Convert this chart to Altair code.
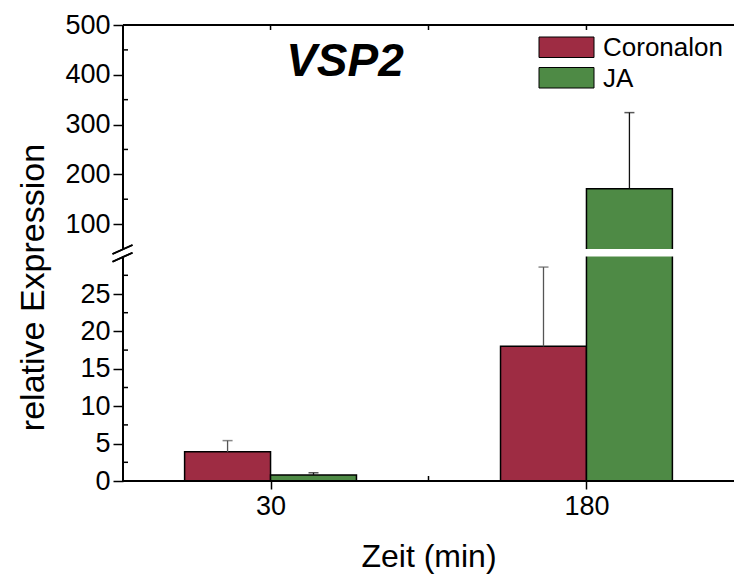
import altair as alt
import pandas as pd

# ---- data ----
times = ["30", "180"]
treatments = ["Coronalon", "JA"]
coronalon_mean = [3.9, 18.0]
coronalon_err = [1.5, 10.6]
ja_mean = [0.8, 171.0]
ja_err = [0.3, 153.0]
colors = ["#9E2C43", "#4E8A45"]
err_colors = ["#555555", "#111111"]

y_major = [0, 5, 10, 15, 20, 25, 100, 200, 300, 400, 500]
y_minor_lower = [2.5, 7.5, 12.5, 17.5, 22.5, 27.5]
y_minor_upper = [150, 250, 350, 450]
break_low, break_high = 30, 50
y_top = 500

# ---- layout constants ----
W, H = 611, 456
BW = 0.272
FONT = "Liberation Sans, Arial, sans-serif"

means = [coronalon_mean, ja_mean]
errs = [coronalon_err, ja_err]
rows = []
for i, t in enumerate(times):
    pos = i + 1
    for j, name in enumerate(treatments):
        x = pos + (j - 1) * BW
        rows.append({
            "time": t, "treatment": name, "x": x, "x2": x + BW, "xc": x + BW / 2,
            "base": 0, "mean": means[j][i], "top": means[j][i] + errs[j][i],
            "errcolor": err_colors[j],
        })
df = pd.DataFrame(rows)

xscale = alt.Scale(domain=[0.533, 2.467], nice=False, zero=False)
yscale = alt.Scale(domain=[0, break_low, break_high, y_top],
                   range=[H, 231.6, 224, 0], nice=False, zero=False)

label_expr = " : ".join([f"datum.value == {i+1} ? '{t}'" for i, t in enumerate(times)]) + " : ''"

xaxis = alt.Axis(values=[1, 2], labelExpr=label_expr, domain=False, grid=False,
                 tickSize=8, tickWidth=1.5, tickColor="black",
                 labelFontSize=27, labelColor="black", labelFont=FONT, labelPadding=4,
                 title="Zeit (min)", titleFontSize=32, titleFont=FONT, titleFontWeight="normal",
                 titleColor="black", titleY=85, titleBaseline="alphabetic")
yaxis = alt.Axis(values=y_major, domain=False, grid=False,
                 tickSize=10, tickWidth=1.5, tickColor="black",
                 labelFontSize=27, labelColor="black", labelFont=FONT, labelPadding=3,
                 labelOverlap=False,
                 title="relative Expression", titleFontSize=34, titleFont=FONT,
                 titleFontWeight="normal", titleColor="black",
                 titleX=-80, titleY=262, titleBaseline="alphabetic", titleAlign="center",
                 titleAngle=270)

bars = alt.Chart(df).mark_rect(stroke="black", strokeWidth=1.5).encode(
    x=alt.X("x:Q", scale=xscale, axis=xaxis),
    x2="x2:Q",
    y=alt.Y("base:Q", scale=yscale, axis=yaxis),
    y2="mean:Q",
    color=alt.Color("treatment:N", scale=alt.Scale(domain=treatments, range=colors), legend=None),
)

stems = alt.Chart(df).mark_rule(strokeWidth=1.3).encode(
    x="xc:Q", y="mean:Q", y2="top:Q", color=alt.Color("errcolor:N", scale=None))
caps = alt.Chart(df).mark_tick(orient="horizontal", size=10, thickness=1.5).encode(
    x="xc:Q", y="top:Q", color=alt.Color("errcolor:N", scale=None))

gap = alt.Chart(pd.DataFrame({"lo": [break_low], "hi": [break_high]})).mark_rect(color="white").encode(
    x=alt.value(0), x2=alt.value(W), y="lo:Q", y2="hi:Q")

left_axis = alt.Chart(pd.DataFrame({"a": [0, break_high], "b": [break_low, y_top]})).mark_rule(
    strokeWidth=2, color="black").encode(x=alt.value(0), y="a:Q", y2="b:Q")
frame_df = pd.DataFrame({"v": [0, y_top]})
hlines = alt.Chart(frame_df).mark_rule(strokeWidth=2, color="black").encode(
    x=alt.value(0), x2=alt.value(W), y="v:Q")

minor_y = alt.Chart(pd.DataFrame({"v": y_minor_lower + y_minor_upper})).mark_rule(
    strokeWidth=1.5, color="black").encode(x=alt.value(0), x2=alt.value(5), y="v:Q")
minor_xb = alt.Chart(pd.DataFrame({"v": [1.5]})).mark_rule(strokeWidth=1.5, color="black").encode(
    x="v:Q", y=alt.value(H), y2=alt.value(H - 5))
minor_xt = alt.Chart(pd.DataFrame({"v": [1, 1.5, 2]})).mark_rule(strokeWidth=1.5, color="black").encode(
    x="v:Q", y=alt.value(0), y2=alt.value(5))

brk = alt.Chart(pd.DataFrame({"k": [0, 1]})).mark_rule(strokeWidth=1.8, color="black")
brk1 = brk.encode(x=alt.value(-10.5), x2=alt.value(9.5), y=alt.value(229), y2=alt.value(220))
brk2 = brk.encode(x=alt.value(-10.5), x2=alt.value(9.5), y=alt.value(236.7), y2=alt.value(227.7))

title = alt.Chart(pd.DataFrame({"t": ["VSP2"]})).mark_text(
    font=FONT, fontSize=46, fontWeight="bold", fontStyle="italic", align="center",
    baseline="alphabetic", color="black").encode(text="t:N", x=alt.value(222), y=alt.value(51))

legend_layers = []
for k, name in enumerate(treatments):
    ytop = 12 + k * 30.5
    ldf = pd.DataFrame({"t": [name]})
    legend_layers.append(alt.Chart(ldf).mark_rect(color=colors[k], stroke="black", strokeWidth=1).encode(
        x=alt.value(416), x2=alt.value(471), y=alt.value(ytop), y2=alt.value(ytop + 20.5)))
    legend_layers.append(alt.Chart(ldf).mark_text(font=FONT, fontSize=26, align="left",
                                                  baseline="middle", color="black").encode(
        text="t:N", x=alt.value(480), y=alt.value(ytop + 11)))

chart = alt.layer(
    bars, stems, caps, gap, left_axis, hlines, minor_y, minor_xb, minor_xt, brk1, brk2, title,
    *legend_layers
).properties(
    width=W, height=H,
    autosize=alt.AutoSizeParams(type="none"),
    padding={"left": 123, "top": 25, "right": 0, "bottom": 98},
).configure_view(stroke=None).configure(background="white")

chart.save("out.html", embed_options={"renderer": "svg", "actions": False})
